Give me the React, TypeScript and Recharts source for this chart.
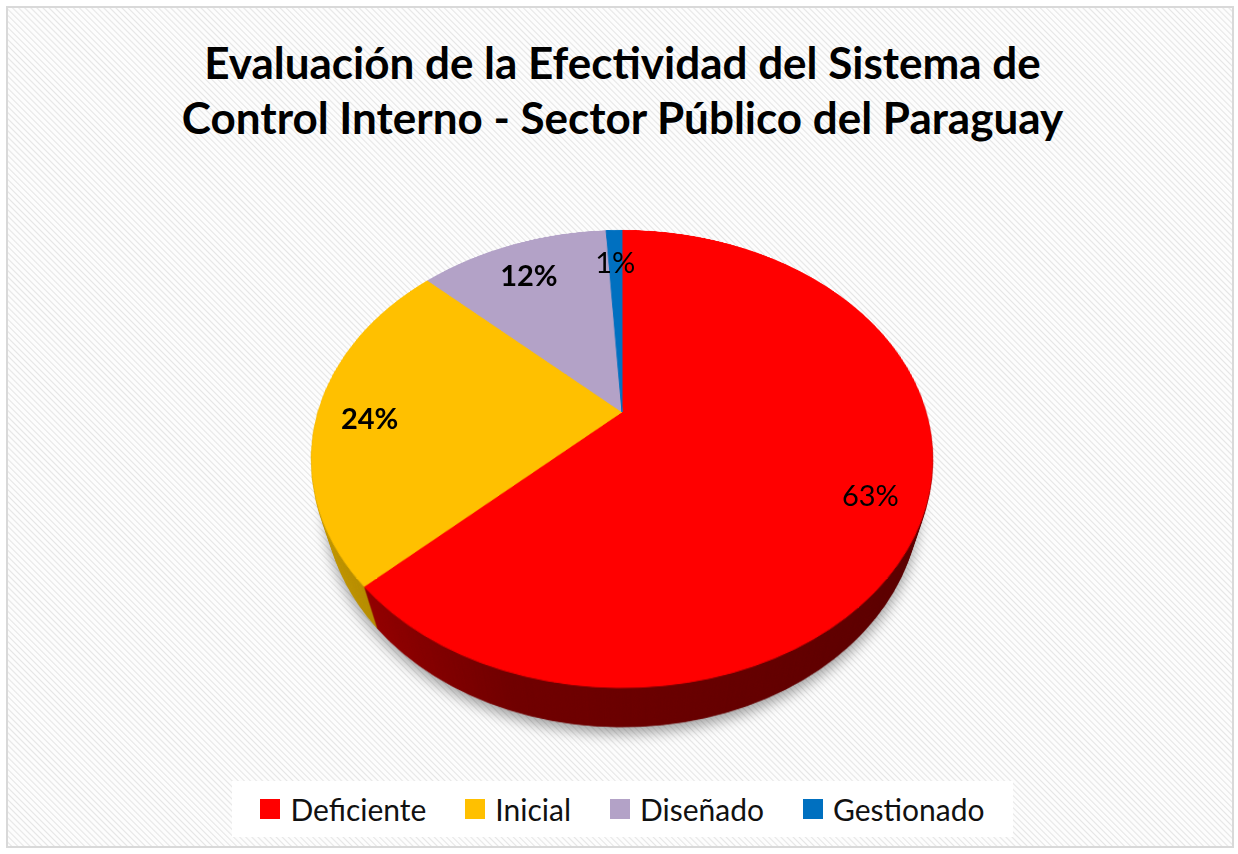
import React from 'react';
import { PieChart, Pie, Cell, Legend } from 'recharts';

// ---- data ----
const categories = ['Deficiente', 'Inicial', 'Diseñado', 'Gestionado'];
const percentages = [63, 24, 12, 1];
const topColors = ['#FF0000', '#FFC000', '#B3A2C7', '#0070C0'];
const sideLight = ['#A80000', '#C89A00', '#8C7BA3', '#005A9A'];
const sideMid = ['#700000', '#9A7600', '#6E6087', '#00457A'];
const sideDark = ['#580000', '#7E6000', '#5F5275', '#003A66'];
const labelBold = [false, true, true, false];
const titleLines = [
  'Evaluación de la Efectividad del Sistema de',
  'Control Interno - Sector Público del Paraguay',
];

const data = categories.map((name, i) => ({ name, value: percentages[i] }));

// ---- 3D geometry ----
const R = 304;
const TILT = 43.9;
const PERSP = 1029;
const DEPTH = 66;
const CX = 622;
const CY = 412;
const SIZE = 2 * R + 10;
const STEP = 1.5;
const depthLevels: number[] = [];
for (let t = DEPTH; t > 0; t -= STEP) depthLevels.push(t);

const project = (lx: number, ly: number) => {
  const a = (TILT * Math.PI) / 180;
  const s = PERSP / (PERSP - ly * Math.sin(a));
  return { x: CX + lx * s, y: CY + ly * Math.cos(a) * s };
};

const FONT = 'Lato, "Open Sans", sans-serif';

function PieLayer({ t, top, first }: { t: number; top: boolean; first: boolean }) {
  return (
    <div
      style={{
        position: 'absolute',
        left: CX - SIZE / 2,
        top: CY - SIZE / 2,
        width: SIZE,
        height: SIZE,
        transformOrigin: '50% 50%',
        transform: `perspective(${PERSP}px) rotateX(${TILT}deg) translateZ(${-t}px)`,
        filter: first ? 'drop-shadow(0px 6px 6px rgba(0,0,0,0.35))' : undefined,
      }}
    >
      <PieChart width={SIZE} height={SIZE} margin={{ top: 0, right: 0, bottom: 0, left: 0 }}>
        <Pie
          data={data}
          dataKey="value"
          nameKey="name"
          cx="50%"
          cy="50%"
          innerRadius={0}
          outerRadius={R}
          startAngle={90}
          endAngle={-270}
          stroke="none"
          label={false}
          labelLine={false}
          isAnimationActive={false}
        >
          {data.map((d, i) => {
            const f = top ? topColors[i] : `url(#side-${i})`;
            return <Cell key={d.name} fill={f} stroke={f} strokeWidth={1} />;
          })}
        </Pie>
      </PieChart>
    </div>
  );
}

const renderLabel = (props: any) => {
  const { midAngle, index, percent } = props;
  const rad = (midAngle * Math.PI) / 180;
  const r = R * 0.83;
  const p = project(r * Math.cos(rad), -r * Math.sin(rad));
  return (
    <text
      x={p.x}
      y={p.y + 5}
      textAnchor="middle"
      dominantBaseline="central"
      fill="#000"
      fontFamily={FONT}
      fontSize={29}
      fontWeight={labelBold[index] ? 700 : 400}
    >
      {`${Math.round(percent * 100)}%`}
    </text>
  );
};

const LegendContent = () => (
  <div
    style={{
      width: '100%',
      height: '100%',
      background: '#fff',
      display: 'flex',
      alignItems: 'center',
      justifyContent: 'center',
      gap: 39,
      fontFamily: FONT,
      fontSize: 30,
      color: '#111',
    }}
  >
    {categories.map((c, i) => (
      <div key={c} style={{ display: 'flex', alignItems: 'center', gap: 10 }}>
        <span style={{ display: 'inline-block', width: 20, height: 20, background: topColors[i] }} />
        <span>{c}</span>
      </div>
    ))}
  </div>
);

export default function App() {
  return (
    <div
      style={{
        position: 'absolute',
        left: 0,
        top: 0,
        width: 1238,
        height: 854,
        background: '#fff',
        overflow: 'hidden',
      }}
    >
      <svg width={0} height={0} style={{ position: 'absolute' }}>
        <defs>
          {categories.map((c, i) => (
            <linearGradient
              key={c}
              id={`side-${i}`}
              gradientUnits="userSpaceOnUse"
              x1={SIZE / 2 - R}
              y1={0}
              x2={SIZE / 2 + R}
              y2={0}
            >
              <stop offset="0" stopColor={sideLight[i]} />
              <stop offset="0.35" stopColor={sideMid[i]} />
              <stop offset="1" stopColor={sideDark[i]} />
            </linearGradient>
          ))}
        </defs>
      </svg>
      <div
        style={{
          position: 'absolute',
          left: 6,
          top: 6,
          width: 1224,
          height: 838,
          border: '2px solid #d9d9d9',
          background:
            'repeating-linear-gradient(45deg, #fdfdfd 0px, #fdfdfd 1.4px, #e6e6e6 2.4px, #fdfdfd 3.6px, #fdfdfd 4.3px)',
        }}
      />
      <div
        style={{
          position: 'absolute',
          left: 7,
          top: 35,
          width: 1231,
          textAlign: 'center',
          fontFamily: FONT,
          fontWeight: 700,
          fontSize: 44,
          lineHeight: '55px',
          color: '#000',
        }}
      >
        {titleLines.map((l) => (
          <div key={l}>{l}</div>
        ))}
      </div>
      {depthLevels.map((t, k) => (
        <PieLayer key={t} t={t} top={false} first={k === 0} />
      ))}
      <PieLayer t={0} top={true} first={false} />
      <div style={{ position: 'absolute', left: 0, top: 0, width: 1238, height: 854, pointerEvents: 'none' }}>
        <PieChart width={1238} height={854} margin={{ top: 0, right: 0, bottom: 0, left: 0 }}>
          <Pie
            data={data}
            dataKey="value"
            nameKey="name"
            cx={CX}
            cy={CY}
            innerRadius={0}
            outerRadius={R}
            startAngle={90}
            endAngle={-270}
            stroke="none"
            fill="transparent"
            label={renderLabel}
            labelLine={false}
            isAnimationActive={false}
          >
            {data.map((d) => (
              <Cell key={d.name} fill="transparent" fillOpacity={0} stroke="none" />
            ))}
          </Pie>
          <Legend
            content={() => <LegendContent />}
            wrapperStyle={{ position: 'absolute', left: 232, top: 781, width: 781, height: 56, bottom: 'auto' }}
          />
        </PieChart>
      </div>
    </div>
  );
}
